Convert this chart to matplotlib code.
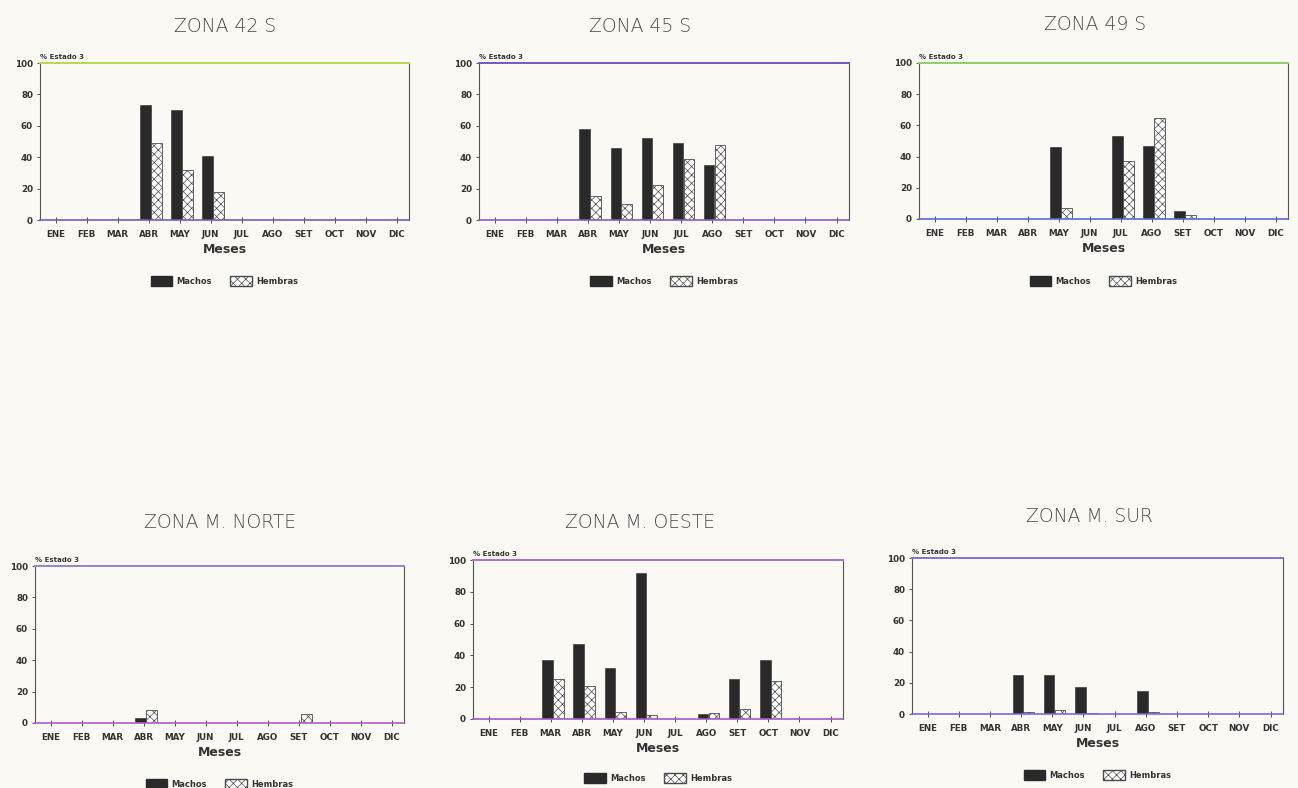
import matplotlib
matplotlib.use("Agg")
import matplotlib.pyplot as plt
from matplotlib.patches import Patch
import numpy as np

meses = ["ENE", "FEB", "MAR", "ABR", "MAY", "JUN",
         "JUL", "AGO", "SET", "OCT", "NOV", "DIC"]

zonas = ["ZONA 42 S", "ZONA 45 S", "ZONA 49 S",
         "ZONA M. NORTE", "ZONA M. OESTE", "ZONA M. SUR"]

# Porcentaje de individuos en estado 3, por mes
machos_42s = [0, 0, 0, 73, 70, 41, 0, 0, 0, 0, 0, 0]
hembras_42s = [0, 0, 0, 49, 32, 18, 0, 0, 0, 0, 0, 0]

machos_45s = [0, 0, 0, 58, 46, 52, 49, 35, 0, 0, 0, 0]
hembras_45s = [0, 0, 0, 15, 10, 22, 39, 48, 0, 0, 0, 0]

machos_49s = [0, 0, 0, 0, 46, 0, 53, 47, 5, 0, 0, 0]
hembras_49s = [0, 0, 0, 0, 7, 0, 37, 65, 2.5, 0, 0, 0]

machos_norte = [0, 0, 0, 3.5, 0, 0, 0, 0, 0, 0, 0, 0]
hembras_norte = [0, 0, 0, 8.5, 0, 0, 0, 0, 6, 0, 0, 0]

machos_oeste = [0, 0, 37, 47, 32, 92, 0, 3, 25, 37, 0, 0]
hembras_oeste = [0, 0, 25, 21, 4.5, 2.5, 0, 4, 6.5, 24, 0, 0]

machos_sur = [0, 0, 0, 25, 25, 17, 0, 15, 0, 0, 0, 0]
hembras_sur = [0, 0, 0, 1, 2.5, 0.5, 0, 1.5, 0, 0, 0, 0]

series = [
    (machos_42s, hembras_42s),
    (machos_45s, hembras_45s),
    (machos_49s, hembras_49s),
    (machos_norte, hembras_norte),
    (machos_oeste, hembras_oeste),
    (machos_sur, hembras_sur),
]

W, H = 1298, 788
bg = "#fbf9f3"
plt.rcParams["hatch.linewidth"] = 0.5
fig = plt.figure(figsize=(W / 100, H / 100), dpi=100, facecolor=bg)

# panel boxes in pixels: left, bottom, right, top
boxes = [
    (40, 220, 409, 63),
    (479, 220, 849, 63),
    (919, 219, 1288, 63),
    (35, 723, 404, 566),
    (473, 719, 843, 560),
    (912, 714, 1283, 558),
]
title_pos = [(225, 27), (640, 27), (1095, 25),
             (220, 523), (640, 523), (1090, 517)]
legend_y = [281, 281, 281, 784, 778, 775]
top_colors = ["#b9d84e", "#7558c0", "#8fcf6a", "#9a7fd0", "#b06fc8", "#8a6fc8"]
bot_colors = ["#7a5ab8", "#8a5ac0", "#5a6ad0", "#b05ac8", "#a05ac8", "#7a6ad0"]

machos_color = "#2a2a2a"
hembras_edge = "#4a4a4a"
x = np.arange(len(meses))
w = 0.34

for i, (box, (mach, hemb)) in enumerate(zip(boxes, series)):
    l, b, r, t = box
    ax = fig.add_axes([l / W, 1 - b / H, (r - l) / W, (b - t) / H])
    ax.set_facecolor("none")
    ax.bar(x - 0.10, mach, width=w, color=machos_color, edgecolor=machos_color,
           linewidth=0.4, zorder=2)
    ax.bar(x + 0.25, hemb, width=w, color="white", edgecolor=hembras_edge,
           hatch="xxxx", linewidth=0.6, zorder=2)
    ax.set_xlim(-0.5, 11.4)
    ax.set_ylim(0, 100)
    ax.set_yticks([0, 20, 40, 60, 80, 100])
    ax.set_xticks(x)
    ax.set_xticklabels(meses)
    ax.tick_params(axis="x", direction="inout", length=4, width=0.6,
                   labelsize=6.3, pad=5, colors="#333333")
    ax.tick_params(axis="y", direction="out", length=2, width=0.6,
                   labelsize=6.3, pad=3, colors="#333333")
    for lab in ax.get_xticklabels() + ax.get_yticklabels():
        lab.set_fontweight("bold")
    for side in ("left", "right"):
        ax.spines[side].set_color("#555555")
        ax.spines[side].set_linewidth(0.8)
    ax.spines["top"].set_color(top_colors[i])
    ax.spines["top"].set_linewidth(1.4)
    ax.spines["bottom"].set_color(bot_colors[i])
    ax.spines["bottom"].set_linewidth(1.2)
    ax.set_xlabel("Meses", fontsize=9, fontweight="bold", color="#333333",
                  labelpad=3)
    ax.text(0.0, 1.02, "% Estado 3", transform=ax.transAxes, fontsize=5,
            fontweight="bold", color="#333333", ha="left", va="bottom")

    tx, ty = title_pos[i]
    fig.text(tx / W, 1 - ty / H, zonas[i], fontsize=13.5, color="#4a4a4a",
             family=["DejaVu Sans"], fontweight="light",
             ha="center", va="center")

    handles = [Patch(facecolor=machos_color, edgecolor=machos_color),
               Patch(facecolor="white", edgecolor=hembras_edge, hatch="xxxx")]
    fig.legend(handles, ["Machos", "Hembras"],
               loc="center", bbox_to_anchor=((l + r) / 2 / W, 1 - legend_y[i] / H),
               ncol=2, frameon=False, handlelength=2.6, handleheight=1.6,
               columnspacing=2.2, handletextpad=0.5,
               prop={"size": 6, "weight": "bold"}, labelcolor="#333333")

fig.savefig("out.png", dpi=100, facecolor=bg)
